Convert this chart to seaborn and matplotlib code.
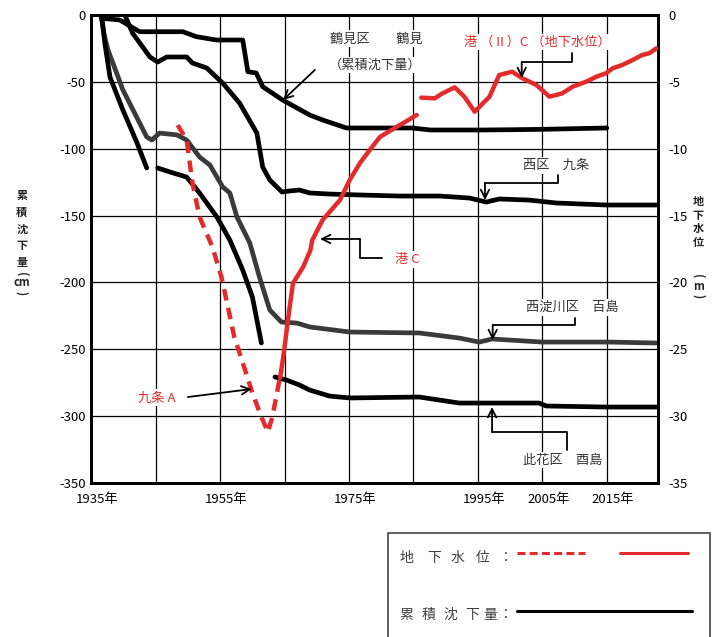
import matplotlib
matplotlib.use("Agg")
import numpy as np
import pandas as pd
import matplotlib.pyplot as plt
import matplotlib.transforms as mtransforms
import seaborn as sns
from matplotlib.patches import Rectangle
from matplotlib.lines import Line2D

sns.set_style("white")
plt.rcParams['font.family'] = ['Noto Sans CJK JP', 'DejaVu Sans']
plt.rcParams['axes.unicode_minus'] = False

# ---- 累積沈下量 (cm) ----
tsurumi_year = [1936.6, 1939.4, 1942.5, 1949.2, 1951.3, 1954.4, 1958.5, 1959.3, 1960.6,
                1961.6, 1964.7, 1968.9, 1970.9, 1974.6, 1979.7, 1984.8, 1987.6, 1995.3,
                2000.0, 2005.0, 2010.0, 2015.0]
tsurumi_cm = [-2.5, -3.7, -12.5, -12.5, -16.2, -18.7, -18.7, -42.4, -43.4,
              -53.6, -63.6, -74.8, -78.5, -84.5, -84.5, -84.5, -86.0, -86.0,
              -85.8, -85.5, -85.0, -84.5]

kujo_year = [1940.2, 1941.4, 1944.1, 1945.3, 1946.7, 1949.8, 1950.7, 1952.9, 1955.4,
             1958.0, 1960.7, 1961.6, 1962.7, 1964.6, 1965.8, 1967.3, 1968.9, 1972.0,
             1976.7, 1982.9, 1989.1, 1993.7, 1996.3, 1998.3, 2002.9, 2007.2, 2014.9,
             2022.7]
kujo_cm = [0.0, -13.5, -31.4, -35.2, -31.4, -31.4, -35.9, -39.6, -50.9,
           -65.8, -88.3, -113.7, -123.4, -132.4, -131.6, -130.9, -133.1, -133.9,
           -134.6, -135.4, -135.4, -136.9, -139.9, -137.6, -138.4, -140.6, -142.1,
           -142.1]

momoshima_year = [1936.5, 1937.0, 1937.6, 1939.9, 1943.6, 1944.4, 1945.6, 1948.3, 1949.8,
                  1951.8, 1953.4, 1955.4, 1956.5, 1957.6, 1959.6, 1961.1, 1962.7, 1964.5,
                  1966.9, 1968.9, 1975.1, 1985.9, 1992.1, 1995.2, 1997.2, 2005.0, 2015.4,
                  2022.7]
momoshima_cm = [0.0, -15.0, -26.2, -56.0, -91.2, -93.5, -88.3, -89.7, -93.5,
                -106.2, -112.2, -128.6, -133.1, -151.0, -170.5, -196.0, -220.6, -229.6,
                -230.4, -233.3, -237.1, -237.8, -241.6, -244.6, -242.3, -244.6, -244.6,
                -245.3]

# 此花区 酉島: observation breaks split the record into segments
torishima_year = [1936.6, 1937.1, 1937.9, 1939.9, 1942.1, 1943.6,
                  1945.3, 1947.2, 1949.8, 1951.8, 1954.5, 1956.5, 1958.5, 1960.0, 1961.4,
                  1963.5, 1965.3, 1967.3, 1968.9, 1972.0, 1975.1, 1985.9, 1992.1, 1996.8,
                  2004.5, 2005.6, 2014.9, 2022.7]
torishima_cm = [0.0, -21.0, -46.4, -71.0, -95.7, -114.4,
                -114.4, -117.4, -121.2, -133.1, -151.1, -168.3, -190.7, -210.9, -245.3,
                -270.7, -273.0, -276.7, -280.5, -285.0, -286.4, -285.7, -290.2, -290.2,
                -290.2, -292.4, -293.2, -293.2]
torishima_seg = [0] * 6 + [1] * 9 + [2] * 13

# ---- 地下水位 (m) ----
kujo_a_year = [1948.4, 1949.8, 1950.7, 1951.8, 1953.8, 1955.2, 1956.2, 1957.2, 1958.5,
               1960.0, 1961.4, 1962.4, 1963.1, 1963.9, 1964.5]
kujo_a_m = [-8.23, -9.35, -12.56, -15.10, -17.35, -19.60, -21.84, -24.10, -26.00,
            -28.27, -30.06, -31.19, -30.06, -28.05, -26.55]

minato_c_year = [1964.3, 1964.8, 1965.8, 1966.3, 1967.9, 1969.0, 1969.3, 1970.9, 1973.6,
                 1975.1, 1976.7, 1978.2, 1979.8, 1982.1, 1983.7, 1985.5]
minato_c_m = [-27.15, -25.55, -21.80, -20.07, -18.82, -17.60, -16.83, -15.33, -13.84,
              -12.34, -11.07, -10.10, -9.12, -8.45, -8.00, -7.48]

minato2_year = [1986.2, 1988.3, 1989.5, 1991.4, 1992.9, 1994.5, 1996.8, 1998.3, 2000.3,
                2001.9, 2004.1, 2006.1, 2008.1, 2009.7, 2011.8, 2013.4, 2014.9, 2015.9,
                2017.4, 2019.0, 2020.5, 2021.6, 2022.7]
minato2_m = [-6.18, -6.23, -5.86, -5.41, -6.11, -7.23, -6.11, -4.49, -4.24,
             -4.73, -5.24, -6.11, -5.86, -5.36, -4.99, -4.61, -4.36, -3.99,
             -3.74, -3.37, -2.99, -2.86, -2.49]

x_ticks = [1935, 1945, 1955, 1965, 1975, 1985, 1995, 2005, 2015]
x_labels = ["1935年", "", "1955年", "", "1975年", "", "1995年", "2005年", "2015年"]
left_ticks = [0, -50, -100, -150, -200, -250, -300, -350]
right_ticks = [0, -5, -10, -15, -20, -25, -30, -35]

RED = "#e32b2b"
GRAY_TXT = "#333333"

W, H = 720, 637
fig = plt.figure(figsize=(W / 100, H / 100), dpi=100)
ax = fig.add_axes([91.3 / W, 1 - 483 / H, (658.3 - 91.3) / W, (483 - 15) / H])
ax2 = ax.twinx()


def frame(year, val, seg=None):
    d = pd.DataFrame({"year": year, "val": val})
    d["seg"] = 0 if seg is None else seg
    return d


line_kw = dict(x="year", y="val", units="seg", estimator=None, sort=False, legend=False)

sns.lineplot(data=frame(momoshima_year, momoshima_cm), ax=ax, color="#3a3a3a",
             lw=3.4, zorder=3, **line_kw)
sns.lineplot(data=frame(tsurumi_year, tsurumi_cm), ax=ax, color="black",
             lw=3.4, zorder=4, **line_kw)
sns.lineplot(data=frame(kujo_year, kujo_cm), ax=ax, color="black",
             lw=3.4, zorder=4, **line_kw)
sns.lineplot(data=frame(torishima_year, torishima_cm, torishima_seg), ax=ax,
             color="black", lw=3.4, zorder=4, **line_kw)

sns.lineplot(data=frame(kujo_a_year, kujo_a_m), ax=ax2, color=RED, lw=3.2,
             dashes=False, zorder=5, **line_kw)
ax2.lines[-1].set_dashes([2.6, 1.7])
sns.lineplot(data=frame(minato_c_year, minato_c_m), ax=ax2, color=RED, lw=3.2,
             zorder=5, **line_kw)
sns.lineplot(data=frame(minato2_year, minato2_m), ax=ax2, color=RED, lw=3.2,
             zorder=5, **line_kw)

# axes, ticks and grid
ax.set_xlim(1935, 2023)
ax.set_ylim(-350, 0)
ax2.set_ylim(-35, 0)
ax.set_xticks(x_ticks)
ax.set_xticklabels(x_labels)
ax.set_yticks(left_ticks)
ax.set_yticklabels([str(v) for v in left_ticks])
ax2.set_yticks(right_ticks)
ax2.set_yticklabels([str(v) for v in right_ticks])
for a in (ax, ax2):
    a.set_xlabel("")
    a.set_ylabel("")
ax.set_axisbelow(True)
ax.grid(True, color="black", lw=0.9)
ax2.grid(False)
ax.tick_params(axis="both", length=0, labelsize=9.5, colors="black")
ax.tick_params(axis="y", pad=4)
ax.tick_params(axis="x", pad=7)
ax2.tick_params(axis="y", length=0, labelsize=9.5, pad=7, colors="black")
for a in (ax, ax2):
    for s in a.spines.values():
        s.set_color("black")
        s.set_linewidth(2.0)

# year labels: digits centred on the gridline, 年 trailing to the right
shift = mtransforms.ScaledTranslation(6 / 100, 0, fig.dpi_scale_trans)
for lbl in ax.get_xticklabels():
    lbl.set_transform(lbl.get_transform() + shift)

# labels and connectors
box = dict(boxstyle="square,pad=0.15", fc="white", ec="none")
arrow = dict(arrowstyle="->,head_length=0.6,head_width=0.3", color="black", lw=1.3,
             shrinkA=0, shrinkB=0)
txt_kw = dict(ha="center", va="center", fontsize=9.5, bbox=box, zorder=8)

ax.text(1979.2, -17.9, "鶴見区　　鶴見", color=GRAY_TXT, **txt_kw)
ax.text(1979.0, -37.4, "（累積沈下量）", color=GRAY_TXT, **txt_kw)
ax.annotate("", xy=(1964.75, -63.6), xytext=(1969.7, -41.1), arrowprops=arrow, zorder=9)

ax.text(2007.2, -112.2, "西区　九条", color=GRAY_TXT, **txt_kw)
ax.plot([2007.5, 2007.5, 1996.1], [-119.7, -125.6, -125.6], color="black", lw=1.3, zorder=9)
ax.annotate("", xy=(1996.1, -138.4), xytext=(1996.1, -125.6), arrowprops=arrow, zorder=9)

ax.text(2009.6, -218.4, "西淀川区　百島", color=GRAY_TXT, **txt_kw)
ax.plot([2010.1, 2010.1, 1997.3], [-226.6, -231.8, -231.8], color="black", lw=1.3, zorder=9)
ax.annotate("", xy=(1997.3, -243.1), xytext=(1997.3, -231.8), arrowprops=arrow, zorder=9)

ax.text(2008.2, -332.8, "此花区　酉島", color=GRAY_TXT, **txt_kw)
ax.plot([2008.9, 2008.9, 1997.2], [-325.3, -311.9, -311.9], color="black", lw=1.3, zorder=9)
ax.annotate("", xy=(1997.2, -293.2), xytext=(1997.2, -311.9), arrowprops=arrow, zorder=9)

ax2.text(2004.3, -2.02, "港 （Ⅱ）C （地下水位）", color=RED, **txt_kw)
ax2.plot([2009.6, 2009.6, 2001.8], [-2.84, -3.52, -3.52], color="black", lw=1.3, zorder=9)
ax2.annotate("", xy=(2001.8, -4.71), xytext=(2001.8, -3.52), arrowprops=arrow, zorder=9)

ax2.text(1984.0, -18.25, "港 C", color=RED, **txt_kw)
ax2.plot([1980.1, 1976.7, 1976.7], [-18.17, -18.17, -16.75], color="black", lw=1.3, zorder=9)
ax2.annotate("", xy=(1970.5, -16.75), xytext=(1976.7, -16.75), arrowprops=arrow, zorder=9)

ax2.text(1945.2, -28.64, "九条 A", color=RED, **txt_kw)
ax2.annotate("", xy=(1959.9, -27.97), xytext=(1950.0, -28.57), arrowprops=arrow, zorder=9)


def fx(x):
    return x / W


def fy(y):
    return 1 - y / H


# vertical axis titles (stacked characters, brackets turned sideways)
title_kw = dict(ha="center", va="center", fontsize=8, fontweight="bold", color="#222222")
for ch, y in zip(["累", "積", "沈", "下", "量"], [195, 212, 229, 245, 262.5]):
    fig.text(fx(21.7), fy(y), ch, **title_kw)
fig.text(fx(21.7), fy(274), "(", rotation=-90, **title_kw)
fig.text(fx(21.7), fy(283), "cm", **title_kw)
fig.text(fx(21.7), fy(293), ")", rotation=-90, **title_kw)

for ch, y in zip(["地", "下", "水", "位"], [201.7, 215, 228, 242]):
    fig.text(fx(698), fy(y), ch, **title_kw)
fig.text(fx(698), fy(276), "(", rotation=-90, **title_kw)
fig.text(fx(698), fy(286), "m", **title_kw)
fig.text(fx(698), fy(296), ")", rotation=-90, **title_kw)

# legend panel
fig.add_artist(Rectangle((fx(388), fy(645)), fx(710) - fx(388), fy(533) - fy(645),
                         transform=fig.transFigure, fc="white", ec="#444444", lw=1.2,
                         clip_on=False))
for ch, x in zip(["地", "下", "水", "位", "："], [406.7, 434, 457.3, 482.3, 505]):
    fig.text(fx(x), fy(558), ch, ha="center", va="center", fontsize=10, color="#404040")
for ch, x in zip(["累", "積", "沈", "下", "量", "："], [406.7, 429, 450.7, 471.7, 490.7, 505]):
    fig.text(fx(x), fy(615), ch, ha="center", va="center", fontsize=10, color="#404040")
fig.add_artist(Line2D([fx(516.7), fx(585)], [fy(553.3), fy(553.3)], color=RED, lw=2.2,
                      dashes=[2.6, 1.4], transform=fig.transFigure))
fig.add_artist(Line2D([fx(620), fx(688)], [fy(553.3), fy(553.3)], color=RED, lw=2.2,
                      transform=fig.transFigure))
fig.add_artist(Line2D([fx(516.7), fx(691.7)], [fy(610.5), fy(610.5)], color="black",
                      lw=2.2, transform=fig.transFigure))

fig.savefig("out.png", dpi=100)
